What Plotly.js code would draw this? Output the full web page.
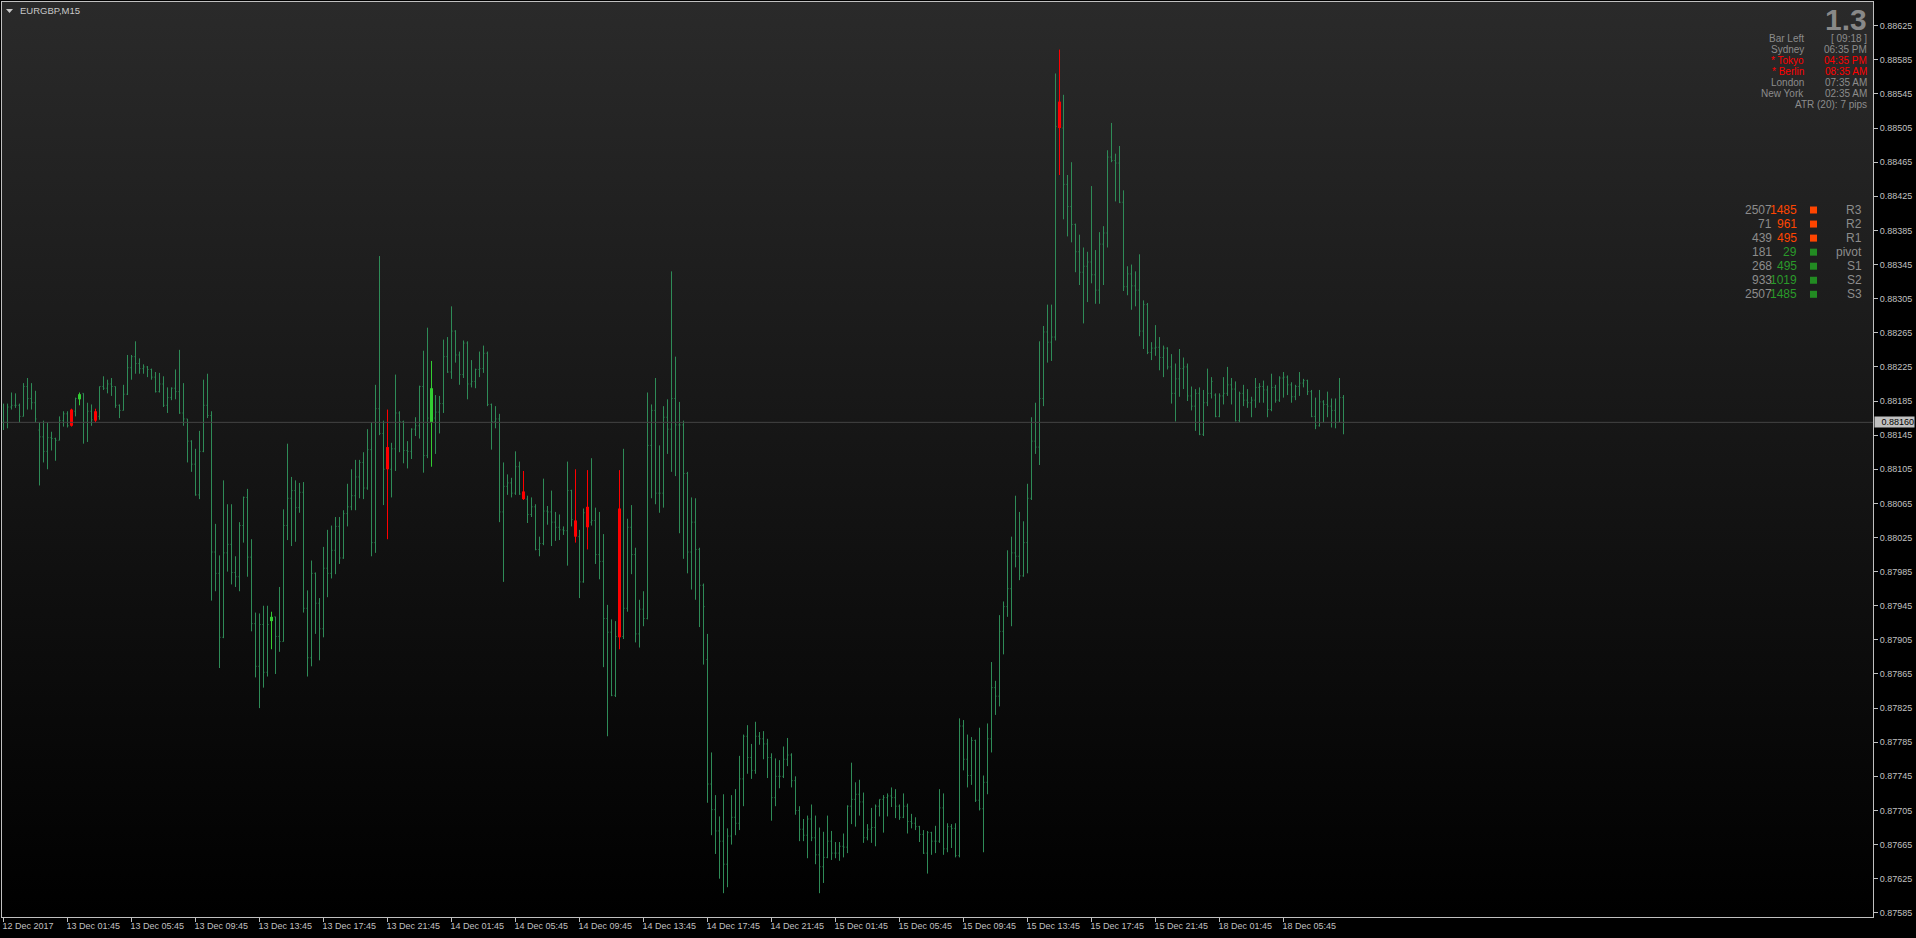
<!DOCTYPE html>
<html><head><meta charset="utf-8">
<script src="https://cdn.plot.ly/plotly-3.0.1.min.js"></script>
<style>
html,body{margin:0;padding:0;background:#000;width:1916px;height:938px;overflow:hidden}
#bg{position:absolute;left:2px;top:2px;width:1871px;height:915px;background:linear-gradient(to bottom,#2a2a2a 0%,#151515 50%,#000 100%)}
#chart{position:absolute;left:0;top:0;width:1916px;height:938px}
</style></head><body>
<div id="bg"></div><div id="chart"></div>
<script>
// ---- OHLC data (EURGBP M15), bar index 0..335 ----
const openP = [
0.88160,0.88160,0.88178,0.88180,0.88180,0.88167,0.88202,0.88188,0.88183,0.88151,
0.88143,0.88126,0.88142,0.88141,0.88139,0.88162,0.88170,0.88175,0.88173,0.88187,
0.88194,0.88160,0.88173,0.88173,0.88167,0.88202,0.88200,0.88205,0.88202,0.88180,
0.88174,0.88193,0.88224,0.88237,0.88229,0.88223,0.88225,0.88222,0.88213,0.88196,
0.88205,0.88180,0.88189,0.88200,0.88196,0.88171,0.88164,0.88138,0.88111,0.88075,
0.88126,0.88180,0.88168,0.88008,0.87983,0.87908,0.88007,0.88017,0.87984,0.87979,
0.88039,0.88072,0.88002,0.87924,0.87874,0.87923,0.87867,0.87927,0.87932,0.87909,
0.87903,0.88039,0.88071,0.88080,0.88060,0.88078,0.87942,0.87884,0.87983,0.87948,
0.87918,0.87989,0.87983,0.88010,0.88038,0.88001,0.88053,0.88061,0.88074,0.88096,
0.88113,0.88083,0.88128,0.88019,0.88176,0.88147,0.88131,0.88105,0.88129,0.88171,
0.88161,0.88127,0.88126,0.88152,0.88156,0.88202,0.88121,0.88160,0.88165,0.88172,
0.88182,0.88237,0.88219,0.88267,0.88239,0.88216,0.88253,0.88205,0.88208,0.88222,
0.88223,0.88241,0.88181,0.88161,0.88164,0.88055,0.88085,0.88089,0.88077,0.88108,
0.88079,0.88070,0.88052,0.88061,0.88011,0.88018,0.88056,0.88055,0.88043,0.88037,
0.88034,0.88033,0.88080,0.88045,0.88026,0.87973,0.88061,0.88043,0.88045,0.88005,
0.87997,0.87930,0.87914,0.87840,0.88059,0.87909,0.87942,0.88037,0.88005,0.87912,
0.87941,0.87930,0.88133,0.88174,0.88077,0.88077,0.88166,0.88152,0.88188,0.88157,
0.88157,0.88100,0.88008,0.88043,0.88011,0.87969,0.87882,0.87736,0.87706,0.87681,
0.87669,0.87642,0.87675,0.87697,0.87690,0.87742,0.87792,0.87767,0.87752,0.87792,
0.87789,0.87783,0.87767,0.87720,0.87745,0.87745,0.87765,0.87770,0.87740,0.87705,
0.87683,0.87676,0.87695,0.87673,0.87653,0.87639,0.87650,0.87669,0.87655,0.87655,
0.87663,0.87662,0.87710,0.87718,0.87724,0.87715,0.87673,0.87683,0.87685,0.87710,
0.87718,0.87720,0.87722,0.87720,0.87710,0.87697,0.87710,0.87692,0.87690,0.87686,
0.87677,0.87655,0.87679,0.87669,0.87669,0.87708,0.87660,0.87686,0.87684,0.87652,
0.87804,0.87765,0.87746,0.87787,0.87717,0.87707,0.87738,0.87789,0.87849,0.87839,
0.87915,0.87944,0.87965,0.88007,0.88003,0.87980,0.88019,0.88071,0.88138,0.88131,
0.88188,0.88266,0.88254,0.88260,0.88536,0.88505,0.88439,0.88413,0.88392,0.88360,
0.88336,0.88343,0.88348,0.88333,0.88315,0.88369,0.88382,0.88471,0.88467,0.88464,
0.88418,0.88319,0.88334,0.88320,0.88315,0.88267,0.88298,0.88242,0.88247,0.88248,
0.88236,0.88247,0.88225,0.88194,0.88211,0.88223,0.88225,0.88191,0.88179,0.88194,
0.88146,0.88183,0.88194,0.88192,0.88167,0.88191,0.88194,0.88204,0.88199,0.88162,
0.88194,0.88186,0.88183,0.88186,0.88201,0.88202,0.88198,0.88175,0.88201,0.88186,
0.88212,0.88213,0.88204,0.88190,0.88202,0.88206,0.88209,0.88196,0.88167,0.88156,
0.88184,0.88181,0.88179,0.88174,0.88160,0.88189];
const highP = [
0.88182,0.88182,0.88195,0.88194,0.88182,0.88206,0.88212,0.88206,0.88197,0.88160,
0.88162,0.88160,0.88149,0.88142,0.88167,0.88173,0.88173,0.88176,0.88189,0.88195,
0.88194,0.88183,0.88181,0.88176,0.88202,0.88214,0.88210,0.88212,0.88202,0.88181,
0.88204,0.88239,0.88239,0.88255,0.88235,0.88228,0.88226,0.88223,0.88219,0.88218,
0.88214,0.88201,0.88201,0.88222,0.88245,0.88206,0.88164,0.88139,0.88129,0.88150,
0.88210,0.88217,0.88173,0.88041,0.88004,0.88092,0.88064,0.88064,0.88003,0.88043,
0.88073,0.88082,0.88023,0.87937,0.87936,0.87945,0.87945,0.87938,0.87932,0.87967,
0.88058,0.88135,0.88096,0.88092,0.88089,0.88090,0.87963,0.87998,0.87984,0.87954,
0.88014,0.88034,0.88039,0.88049,0.88049,0.88057,0.88088,0.88105,0.88116,0.88116,
0.88125,0.88152,0.88160,0.88204,0.88355,0.88162,0.88175,0.88136,0.88216,0.88173,
0.88162,0.88138,0.88153,0.88166,0.88203,0.88244,0.88271,0.88232,0.88192,0.88191,
0.88257,0.88260,0.88296,0.88268,0.88243,0.88256,0.88255,0.88233,0.88223,0.88243,
0.88250,0.88243,0.88182,0.88179,0.88170,0.88113,0.88099,0.88095,0.88126,0.88114,
0.88103,0.88074,0.88072,0.88064,0.88026,0.88094,0.88062,0.88080,0.88055,0.88052,
0.88038,0.88114,0.88081,0.88105,0.88034,0.88059,0.88104,0.88118,0.88060,0.88055,
0.88029,0.87946,0.87929,0.87927,0.88104,0.88129,0.88047,0.88063,0.88013,0.87952,
0.87962,0.88195,0.88181,0.88212,0.88133,0.88179,0.88187,0.88337,0.88237,0.88184,
0.88162,0.88102,0.88072,0.88071,0.88013,0.87971,0.87912,0.87773,0.87723,0.87698,
0.87724,0.87684,0.87723,0.87730,0.87769,0.87794,0.87805,0.87783,0.87809,0.87797,
0.87798,0.87789,0.87772,0.87766,0.87764,0.87780,0.87790,0.87772,0.87745,0.87710,
0.87695,0.87699,0.87712,0.87699,0.87685,0.87680,0.87699,0.87681,0.87668,0.87668,
0.87678,0.87711,0.87761,0.87738,0.87741,0.87726,0.87689,0.87708,0.87712,0.87718,
0.87723,0.87725,0.87732,0.87730,0.87712,0.87725,0.87713,0.87701,0.87697,0.87687,
0.87682,0.87681,0.87680,0.87687,0.87730,0.87725,0.87690,0.87689,0.87690,0.87813,
0.87811,0.87794,0.87791,0.87788,0.87802,0.87746,0.87807,0.87879,0.87857,0.87934,
0.87950,0.88010,0.88026,0.88074,0.88055,0.88044,0.88088,0.88166,0.88183,0.88255,
0.88273,0.88298,0.88298,0.88569,0.88597,0.88544,0.88450,0.88465,0.88393,0.88380,
0.88365,0.88360,0.88437,0.88362,0.88383,0.88390,0.88479,0.88511,0.88475,0.88484,
0.88432,0.88343,0.88345,0.88337,0.88357,0.88303,0.88300,0.88254,0.88274,0.88260,
0.88250,0.88248,0.88240,0.88229,0.88246,0.88236,0.88229,0.88202,0.88199,0.88201,
0.88198,0.88223,0.88213,0.88194,0.88194,0.88213,0.88225,0.88212,0.88208,0.88196,
0.88204,0.88199,0.88190,0.88212,0.88206,0.88209,0.88203,0.88217,0.88204,0.88214,
0.88219,0.88215,0.88207,0.88204,0.88219,0.88211,0.88210,0.88198,0.88189,0.88198,
0.88186,0.88196,0.88188,0.88188,0.88212,0.88192];
const lowP = [
0.88151,0.88153,0.88175,0.88177,0.88160,0.88167,0.88175,0.88175,0.88160,0.88086,
0.88113,0.88105,0.88127,0.88115,0.88139,0.88155,0.88154,0.88155,0.88167,0.88180,
0.88135,0.88137,0.88156,0.88160,0.88163,0.88198,0.88194,0.88191,0.88177,0.88165,
0.88174,0.88192,0.88210,0.88217,0.88217,0.88217,0.88213,0.88210,0.88195,0.88195,
0.88178,0.88171,0.88186,0.88187,0.88170,0.88156,0.88113,0.88102,0.88074,0.88070,
0.88125,0.88165,0.87951,0.87962,0.87872,0.87907,0.87985,0.87970,0.87967,0.87962,
0.88019,0.87979,0.87915,0.87861,0.87825,0.87849,0.87862,0.87894,0.87865,0.87891,
0.87903,0.88022,0.88015,0.88020,0.88054,0.87937,0.87862,0.87874,0.87912,0.87881,
0.87908,0.87955,0.87977,0.87982,0.87994,0.88000,0.88038,0.88057,0.88057,0.88071,
0.88070,0.88081,0.88003,0.88007,0.88145,0.88063,0.88023,0.88072,0.88103,0.88125,
0.88112,0.88106,0.88117,0.88144,0.88141,0.88101,0.88118,0.88108,0.88123,0.88147,
0.88171,0.88218,0.88211,0.88230,0.88204,0.88212,0.88187,0.88201,0.88200,0.88213,
0.88218,0.88179,0.88128,0.88153,0.88043,0.87973,0.88075,0.88072,0.88075,0.88075,
0.88069,0.88042,0.88049,0.88010,0.88003,0.88016,0.88040,0.88015,0.88021,0.88022,
0.88028,0.87992,0.88038,0.88019,0.87954,0.87972,0.88011,0.88039,0.87994,0.87976,
0.87873,0.87792,0.87839,0.87838,0.87894,0.87906,0.87938,0.87982,0.87902,0.87896,
0.87921,0.87929,0.88071,0.88064,0.88054,0.88060,0.88123,0.88102,0.88097,0.88030,
0.88000,0.87983,0.87964,0.87952,0.87920,0.87876,0.87714,0.87676,0.87654,0.87625,
0.87608,0.87615,0.87665,0.87676,0.87682,0.87710,0.87748,0.87742,0.87748,0.87782,
0.87765,0.87743,0.87693,0.87710,0.87731,0.87743,0.87757,0.87732,0.87700,0.87669,
0.87669,0.87649,0.87669,0.87642,0.87608,0.87620,0.87649,0.87647,0.87649,0.87646,
0.87650,0.87655,0.87689,0.87686,0.87699,0.87667,0.87670,0.87667,0.87663,0.87698,
0.87679,0.87698,0.87709,0.87696,0.87694,0.87696,0.87678,0.87684,0.87682,0.87668,
0.87654,0.87631,0.87653,0.87655,0.87667,0.87653,0.87656,0.87661,0.87650,0.87650,
0.87752,0.87732,0.87735,0.87715,0.87705,0.87656,0.87724,0.87773,0.87817,0.87827,
0.87888,0.87932,0.87921,0.87990,0.87975,0.87979,0.87983,0.88069,0.88123,0.88110,
0.88179,0.88230,0.88232,0.88256,0.88450,0.88398,0.88378,0.88371,0.88336,0.88321,
0.88276,0.88301,0.88323,0.88299,0.88299,0.88321,0.88365,0.88465,0.88419,0.88417,
0.88314,0.88309,0.88292,0.88296,0.88261,0.88246,0.88240,0.88233,0.88238,0.88221,
0.88213,0.88222,0.88182,0.88161,0.88190,0.88199,0.88185,0.88174,0.88150,0.88145,
0.88144,0.88179,0.88188,0.88166,0.88166,0.88181,0.88191,0.88181,0.88161,0.88160,
0.88179,0.88177,0.88166,0.88177,0.88183,0.88183,0.88166,0.88173,0.88183,0.88184,
0.88189,0.88192,0.88183,0.88186,0.88191,0.88201,0.88192,0.88166,0.88152,0.88155,
0.88160,0.88166,0.88154,0.88153,0.88160,0.88146];
const closeP = [
0.88160,0.88178,0.88180,0.88180,0.88167,0.88202,0.88188,0.88183,0.88164,0.88143,
0.88126,0.88142,0.88141,0.88139,0.88162,0.88170,0.88156,0.88156,0.88188,0.88193,
0.88160,0.88173,0.88163,0.88162,0.88202,0.88200,0.88205,0.88202,0.88180,0.88174,
0.88193,0.88224,0.88237,0.88229,0.88223,0.88225,0.88222,0.88213,0.88196,0.88205,
0.88180,0.88189,0.88200,0.88196,0.88171,0.88164,0.88138,0.88111,0.88075,0.88126,
0.88180,0.88168,0.88008,0.87983,0.87908,0.88007,0.88017,0.87984,0.87979,0.88039,
0.88072,0.88002,0.87924,0.87874,0.87923,0.87867,0.87923,0.87932,0.87909,0.87903,
0.88039,0.88071,0.88080,0.88060,0.88078,0.87942,0.87884,0.87983,0.87948,0.87918,
0.87989,0.87983,0.88010,0.88038,0.88001,0.88053,0.88061,0.88074,0.88096,0.88113,
0.88083,0.88128,0.88019,0.88176,0.88147,0.88105,0.88105,0.88129,0.88171,0.88161,
0.88127,0.88126,0.88152,0.88156,0.88202,0.88121,0.88165,0.88200,0.88172,0.88182,
0.88237,0.88219,0.88267,0.88239,0.88216,0.88253,0.88205,0.88208,0.88222,0.88223,
0.88241,0.88181,0.88161,0.88164,0.88055,0.88085,0.88089,0.88077,0.88108,0.88076,
0.88070,0.88052,0.88061,0.88011,0.88018,0.88056,0.88055,0.88043,0.88037,0.88034,
0.88033,0.88080,0.88046,0.88026,0.87973,0.88054,0.88037,0.88045,0.88005,0.87997,
0.87930,0.87914,0.87840,0.87909,0.87908,0.87942,0.88037,0.88005,0.87912,0.87941,
0.87930,0.88133,0.88174,0.88077,0.88077,0.88166,0.88152,0.88188,0.88157,0.88157,
0.88100,0.88008,0.88043,0.88011,0.87969,0.87944,0.87736,0.87706,0.87681,0.87669,
0.87642,0.87675,0.87697,0.87690,0.87742,0.87792,0.87767,0.87752,0.87792,0.87789,
0.87783,0.87767,0.87720,0.87745,0.87745,0.87765,0.87770,0.87740,0.87705,0.87683,
0.87676,0.87695,0.87673,0.87653,0.87639,0.87650,0.87669,0.87655,0.87655,0.87663,
0.87662,0.87710,0.87718,0.87724,0.87715,0.87673,0.87683,0.87685,0.87710,0.87718,
0.87720,0.87722,0.87720,0.87710,0.87697,0.87710,0.87692,0.87690,0.87686,0.87677,
0.87655,0.87679,0.87669,0.87669,0.87708,0.87660,0.87686,0.87684,0.87652,0.87804,
0.87765,0.87746,0.87787,0.87717,0.87707,0.87738,0.87789,0.87849,0.87839,0.87915,
0.87944,0.87965,0.88007,0.88003,0.87980,0.88019,0.88071,0.88138,0.88131,0.88188,
0.88266,0.88254,0.88260,0.88507,0.88505,0.88439,0.88413,0.88392,0.88360,0.88336,
0.88343,0.88348,0.88333,0.88315,0.88369,0.88382,0.88471,0.88467,0.88464,0.88418,
0.88319,0.88334,0.88320,0.88315,0.88267,0.88298,0.88242,0.88247,0.88248,0.88236,
0.88247,0.88225,0.88194,0.88211,0.88223,0.88225,0.88191,0.88179,0.88194,0.88146,
0.88183,0.88194,0.88208,0.88167,0.88191,0.88194,0.88204,0.88199,0.88162,0.88194,
0.88186,0.88183,0.88186,0.88201,0.88202,0.88198,0.88175,0.88201,0.88186,0.88212,
0.88213,0.88204,0.88190,0.88202,0.88206,0.88209,0.88196,0.88167,0.88156,0.88184,
0.88181,0.88179,0.88174,0.88160,0.88189,0.88160];

// highlighted candles drawn by the indicator
const redCandles  = [17, 23, 96, 130, 143, 146, 154, 264];
const limeCandles = [19, 67, 107];

// axis labels
const yTicks = [0.88625,0.88585,0.88545,0.88505,0.88465,0.88425,0.88385,0.88345,0.88305,
  0.88265,0.88225,0.88185,0.88145,0.88105,0.88065,0.88025,0.87985,0.87945,0.87905,0.87865,
  0.87825,0.87785,0.87745,0.87705,0.87665,0.87625,0.87585];
const xTickIdx = [0,16,32,48,64,80,96,112,128,144,160,176,192,208,224,240,256,272,288,304,320];
const xTickText = ['12 Dec 2017','13 Dec 01:45','13 Dec 05:45','13 Dec 09:45','13 Dec 13:45',
  '13 Dec 17:45','13 Dec 21:45','14 Dec 01:45','14 Dec 05:45','14 Dec 09:45','14 Dec 13:45',
  '14 Dec 17:45','14 Dec 21:45','15 Dec 01:45','15 Dec 05:45','15 Dec 09:45','15 Dec 13:45',
  '15 Dec 17:45','15 Dec 21:45','18 Dec 01:45','18 Dec 05:45'];
const lastPrice = 0.88160;

// info panels
const symbolTitle = 'EURGBP,M15';
const spreadText = '1.3';
const sessionNames = ['Bar Left','Sydney','* Tokyo','* Berlin','London','New York'];
const sessionTimes = ['[ 09:18 ]','06:35 PM','04:35 PM','08:35 AM','07:35 AM','02:35 AM'];
const sessionActive = [false,false,true,true,false,false];
const atrText = 'ATR (20): 7 pips';
const pivotNames = ['R3','R2','R1','pivot','S1','S2','S3'];
const pivotA = ['2507','71','439','181','268','933','2507'];
const pivotB = ['1485','961','495','29','495','1019','1485'];

// ---- build ----
const N = closeP.length;
const idx = Array.from({length:N}, (_, i) => i);
const special = new Set([...redCandles, ...limeCandles]);
const normal = idx.filter(i => !special.has(i));
const pick = (arr, ids) => ids.map(i => arr[i]);
const GREEN = '#2e8b57';
const FONT = 'Liberation Sans, Arial, sans-serif';

const traces = [];
traces.push({
  type: 'ohlc', x: normal,
  open: pick(openP, normal), high: pick(highP, normal), low: pick(lowP, normal), close: pick(closeP, normal),
  increasing: {line: {color: GREEN, width: 1}}, decreasing: {line: {color: GREEN, width: 1}},
  tickwidth: 0.25, hoverinfo: 'skip', showlegend: false
});
function candle(ids, col) {
  traces.push({
    type: 'ohlc', x: ids,
    open: pick(openP, ids), high: pick(highP, ids), low: pick(lowP, ids), close: pick(closeP, ids),
    increasing: {line: {color: col, width: 1}}, decreasing: {line: {color: col, width: 1}},
    tickwidth: 0, hoverinfo: 'skip', showlegend: false
  });
  traces.push({
    type: 'bar', x: ids,
    base: ids.map(i => Math.min(openP[i], closeP[i])),
    y: ids.map(i => Math.abs(closeP[i] - openP[i])),
    width: 0.75, marker: {color: col, line: {width: 0}},
    hoverinfo: 'skip', showlegend: false
  });
}
candle(redCandles, '#ff0000');
candle(limeCandles, '#32cd32');

// layout geometry: plot area x 2..1873, y 2..917
const annotations = [];
const shapes = [];
const TOP = 2, RIGHT = 1873;
function txt(text, px, py, anchor, size, color, extra) {
  annotations.push(Object.assign({
    text: text, xref: 'paper', yref: 'paper', x: 1, y: 1,
    xshift: px - RIGHT, yshift: -(py - TOP), xanchor: anchor, yanchor: 'middle',
    showarrow: false, font: {family: FONT, size: size, color: color}
  }, extra || {}));
}
// title
annotations.push({text: symbolTitle, xref: 'paper', yref: 'paper', x: 0, y: 1, xshift: 16, yshift: -8.5,
  xanchor: 'left', yanchor: 'middle', showarrow: false, font: {family: FONT, size: 9.5, color: '#c8c8c8'}});
shapes.push({type: 'path', xref: 'paper', yref: 'paper', xsizemode: 'pixel', ysizemode: 'pixel',
  xanchor: 0, yanchor: 1, path: 'M4,-7 L11,-7 L7.5,-11 Z', fillcolor: '#c8c8c8', line: {width: 0}});
// spread + sessions
txt(spreadText, 1869, 19, 'right', 30, '#888888', {font: {family: FONT, size: 30, color: '#888888', weight: 700}});
sessionNames.forEach((s, k) => {
  const col = sessionActive[k] ? '#ff0000' : '#8c8c8c';
  const y = 38 + 11 * k;
  txt(s, 1806, y, 'right', 10, col);
  txt(sessionTimes[k], 1869, y, 'right', 10, col);
});
txt(atrText, 1869, 104, 'right', 10, '#8c8c8c');
// pivot table
pivotNames.forEach((s, k) => {
  const y = 210 + 14.05 * k;
  const isR = k < 3;
  const col = isR ? '#ff4500' : '#2a9a2a';
  txt(pivotA[k], 1774, y, 'right', 12, '#8c8c8c');
  txt(pivotB[k], 1799, y, 'right', 12, col);
  txt(s, 1864, y, 'right', 12, '#8c8c8c');
  shapes.push({type: 'rect', xref: 'paper', yref: 'paper', xsizemode: 'pixel', ysizemode: 'pixel',
    xanchor: 1, yanchor: 1, x0: 1810 - RIGHT, x1: 1817 - RIGHT,
    y0: -(y - TOP) - 3.5, y1: -(y - TOP) + 3.5, fillcolor: isR ? '#ff4500' : '#228b22', line: {width: 0}});
});
// last price line + label
shapes.push({type: 'line', xref: 'paper', x0: 0, x1: 1, yref: 'y', y0: lastPrice, y1: lastPrice,
  line: {color: '#444444', width: 1}});
annotations.push({text: lastPrice.toFixed(5), xref: 'paper', x: 1, xanchor: 'left', xshift: 1,
  yref: 'y', y: lastPrice, yanchor: 'middle', showarrow: false, bgcolor: '#c0c0c0', borderpad: 0,
  width: 39, height: 10, align: 'right', font: {family: FONT, size: 9, color: '#000000'}});

const layout = {
  width: 1916, height: 938,
  margin: {l: 2, r: 43, t: 2, b: 21, pad: 0},
  paper_bgcolor: 'rgba(0,0,0,0)', plot_bgcolor: 'rgba(0,0,0,0)',
  showlegend: false, hovermode: false, barmode: 'overlay', dragmode: false,
  xaxis: {
    range: [-0.375, 467.375], showgrid: false, zeroline: false, rangeslider: {visible: false},
    showline: true, mirror: true, linecolor: '#c0c0c0', linewidth: 1,
    tickmode: 'array', tickvals: xTickIdx, ticktext: xTickText,
    ticks: 'outside', ticklen: 4, tickcolor: '#c0c0c0', tickwidth: 1,
    ticklabelposition: 'outside right', ticklabelshift: -2,
    tickfont: {family: FONT, size: 9, color: '#c0c0c0'}, fixedrange: true
  },
  yaxis: {
    side: 'right', range: [0.875801, 0.886528], showgrid: false, zeroline: false,
    showline: true, mirror: true, linecolor: '#c0c0c0', linewidth: 1,
    tickmode: 'array', tickvals: yTicks, ticktext: yTicks.map(v => v.toFixed(5)),
    ticks: 'outside', ticklen: 4, tickcolor: '#c0c0c0', tickwidth: 1,
    tickfont: {family: FONT, size: 9, color: '#c0c0c0'}, fixedrange: true
  },
  annotations: annotations, shapes: shapes
};
Plotly.newPlot('chart', traces, layout, {displayModeBar: false, staticPlot: true});
</script>
</body></html>
